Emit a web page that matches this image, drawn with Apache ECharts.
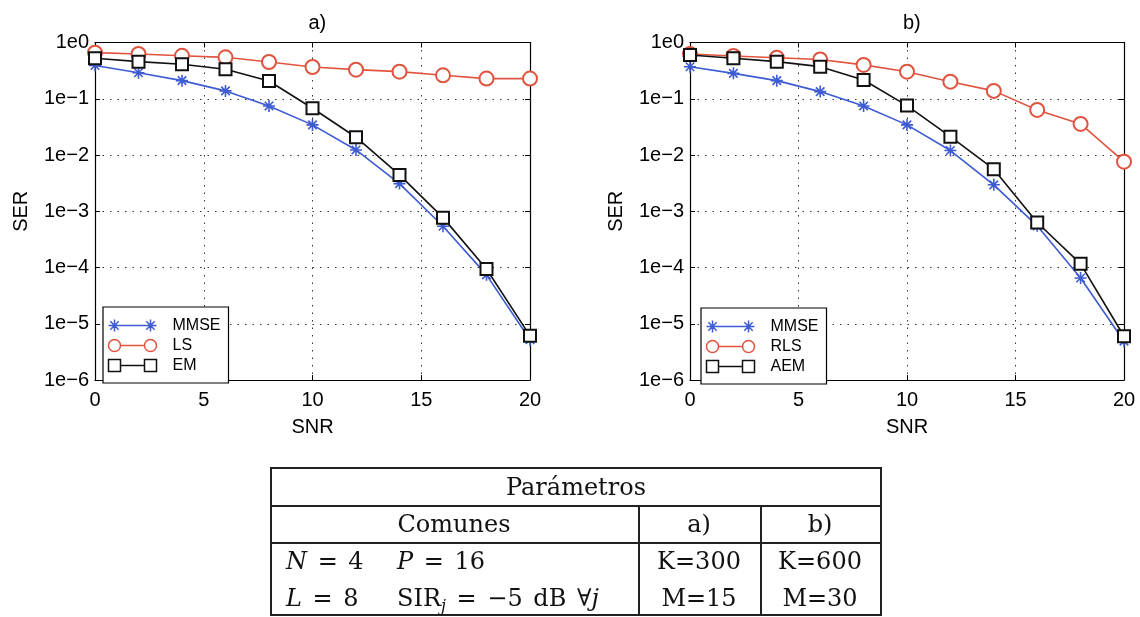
<!DOCTYPE html>
<html>
<head>
<meta charset="utf-8">
<script src="https://cdn.jsdelivr.net/npm/echarts@6/dist/echarts.min.js"></script>
<style>
  html, body { margin: 0; padding: 0; background: #fff; }
  #wrap { position: relative; width: 1140px; height: 617px; overflow: hidden; }
  #chart { position: absolute; left: 0; top: 0; width: 1140px; height: 617px; }
  #params { position: absolute; left: 0; top: 0; width: 1140px; height: 617px; pointer-events: none;
            font-family: "DejaVu Serif", "Liberation Serif", serif; font-size: 24px; color: #111; }
  #params .ln { position: absolute; background: #222; }
  #params .tx { position: absolute; white-space: nowrap; line-height: 30px; height: 30px; }
  #params .m { word-spacing: 3px; }
  #params .c { text-align: center; transform: translateX(-50%); }
  #params i { font-style: italic; }
  #params sub { font-size: 16px; vertical-align: -5px; line-height: 0; }
</style>
</head>
<body>
<div id="wrap">
  <div id="chart"></div>
  <div id="params">
    <!-- frame of the parameter table -->
    <div class="ln" style="left:270px;top:467px;width:612px;height:1.5px"></div>
    <div class="ln" style="left:270px;top:505px;width:612px;height:1.5px"></div>
    <div class="ln" style="left:270px;top:542px;width:612px;height:1.5px"></div>
    <div class="ln" style="left:270px;top:614px;width:612px;height:1.5px"></div>
    <div class="ln" style="left:270px;top:467px;width:1.5px;height:149px"></div>
    <div class="ln" style="left:880px;top:467px;width:1.5px;height:149px"></div>
    <div class="ln" style="left:638px;top:505px;width:1.5px;height:111px"></div>
    <div class="ln" style="left:760px;top:505px;width:1.5px;height:111px"></div>
    <!-- cell texts -->
    <div class="tx c" style="left:576px;top:472px">Parámetros</div>
    <div class="tx c" style="left:454px;top:509px">Comunes</div>
    <div class="tx c" style="left:699px;top:509px">a)</div>
    <div class="tx c" style="left:820px;top:509px">b)</div>
    <div class="tx m" style="left:286px;top:546px"><i>N</i> = 4</div>
    <div class="tx m" style="left:397px;top:546px"><i>P</i> = 16</div>
    <div class="tx m" style="left:286px;top:583px"><i>L</i> = 8</div>
    <div class="tx m" style="left:397px;top:583px">SIR<sub><i>j</i></sub> = −5 dB ∀<i>j</i></div>
    <div class="tx c" style="left:699px;top:546px">K=300</div>
    <div class="tx c" style="left:699px;top:583px">M=15</div>
    <div class="tx c" style="left:820px;top:546px">K=600</div>
    <div class="tx c" style="left:820px;top:583px">M=30</div>
  </div>
</div>
<script>
// SNR points (dB)
const snr = [0, 2, 4, 6, 8, 10, 12, 14, 16, 18, 20];
const snrTicks = [0, 5, 10, 15, 20];

// Panel a): K=300, M=15
const namesA = ['MMSE', 'LS', 'EM'];
const serMmseA = [0.39, 0.29, 0.21, 0.138, 0.0745, 0.0343, 0.0123, 0.0031, 5.4e-4, 7.4e-5, 5.2e-6];
const serLsA   = [0.66, 0.625, 0.58, 0.545, 0.45, 0.367, 0.329, 0.303, 0.261, 0.228, 0.228];
const serEmA   = [0.524, 0.457, 0.41, 0.334, 0.207, 0.0678, 0.0207, 0.00443, 7.7e-4, 9.4e-5, 6.1e-6];

// Panel b): K=600, M=30
const namesB = ['MMSE', 'RLS', 'AEM'];
const serMmseB = [0.37, 0.283, 0.21, 0.134, 0.0745, 0.0343, 0.012, 0.00295, 5.5e-4, 6.5e-5, 4.9e-6];
const serRlsB  = [0.625, 0.575, 0.537, 0.5, 0.4, 0.303, 0.201, 0.138, 0.0633, 0.0357, 0.0076];
const serAemB  = [0.6, 0.524, 0.457, 0.372, 0.216, 0.0755, 0.0212, 0.0056, 6.3e-4, 1.16e-4, 6.0e-6];

const panelTitles = ['a)', 'b)'];

const BLUE = '#3d5bd3';
const RED = '#e0543f';
const BLACK = '#111';
const FONT = '"Liberation Sans", Arial, Helvetica, sans-serif';

// MATLAB-like markers
const STAR = 'path://M0 -10 L0 10 M-10 0 L10 0 M-7.07 -7.07 L7.07 7.07 M-7.07 7.07 L7.07 -7.07';
const ICON_STAR = 'path://M6 6 L42 6 M6 0 L6 12 M0 6 L12 6 M1.8 1.8 L10.2 10.2 M1.8 10.2 L10.2 1.8 ' +
                  'M42 0 L42 12 M36 6 L48 6 M37.8 1.8 L46.2 10.2 M37.8 10.2 L46.2 1.8';
const ICON_CIRCLE = 'path://M12 6 L36 6 M0 6 A6 6 0 1 0 12 6 A6 6 0 1 0 0 6 M36 6 A6 6 0 1 0 48 6 A6 6 0 1 0 36 6';
const ICON_SQUARE = 'path://M0 0 L12 0 L12 12 L0 12 Z M12 6 L36 6 M36 0 L48 0 L48 12 L36 12 Z';

const styles = [
  { color: BLUE, symbol: STAR, size: 12, icon: ICON_STAR },
  { color: RED, symbol: 'emptyCircle', size: 14, icon: ICON_CIRCLE },
  { color: BLACK, symbol: 'emptyRect', size: 12, icon: ICON_SQUARE }
];

const grids = [
  { left: 95, top: 42.5, width: 435, height: 337.5 },
  { left: 690, top: 42.5, width: 434, height: 337.5 }
];

function pairs(ys) { return snr.map((x, i) => [x, ys[i]]); }

function expLabel(v) {
  const e = Math.round(Math.log10(v));
  return '1e' + (e < 0 ? '\u2212' + (-e) : String(e));
}

const dotted = { color: '#333', width: 1, type: [1.5, 6] };

const xAxes = [], yAxes = [], series = [], legends = [], titles = [];

grids.forEach((g, gi) => {
  xAxes.push({
    gridIndex: gi, type: 'value', min: 0, max: 20, interval: 5, position: 'bottom',
    axisLine: { show: true, onZero: false, lineStyle: { color: '#000', width: 1.2 } },
    axisTick: { show: true, inside: true, length: 5, lineStyle: { color: '#000' } },
    axisLabel: { color: '#000', fontSize: 20, fontFamily: FONT, margin: 10,
                 formatter: v => (snrTicks.indexOf(v) >= 0 ? String(v) : '') },
    splitLine: { show: true, lineStyle: dotted },
    name: 'SNR', nameLocation: 'middle', nameGap: 37,
    nameTextStyle: { color: '#000', fontSize: 20, fontFamily: FONT }
  });
  yAxes.push({
    gridIndex: gi, type: 'log', logBase: 10, min: 1e-6, max: 1, position: 'left',
    axisLine: { show: true, onZero: false, lineStyle: { color: '#000', width: 1.2 } },
    axisTick: { show: true, inside: true, length: 5, lineStyle: { color: '#000' } },
    axisLabel: { color: '#000', fontSize: 20, fontFamily: FONT, margin: 6, formatter: expLabel },
    splitLine: { show: true, lineStyle: dotted },
    name: 'SER', nameLocation: 'middle', nameGap: 64, nameRotate: 90,
    nameTextStyle: { color: '#000', fontSize: 20, fontFamily: FONT }
  });
  titles.push({
    text: panelTitles[gi], left: g.left + g.width / 2 - 9, top: 8,
    textStyle: { fontSize: 20, fontWeight: 'normal', color: '#000', fontFamily: FONT }
  });
});

// Opposite-side axes for the closed box with inner ticks
grids.forEach((g, gi) => {
  xAxes.push({
    gridIndex: gi, type: 'value', min: 0, max: 20, interval: 5, position: 'top',
    axisLine: { show: true, onZero: false, lineStyle: { color: '#000', width: 1.2 } },
    axisTick: { show: true, inside: true, length: 5, lineStyle: { color: '#000' } },
    axisLabel: { show: false }, splitLine: { show: false }
  });
  yAxes.push({
    gridIndex: gi, type: 'log', logBase: 10, min: 1e-6, max: 1, position: 'right',
    axisLine: { show: true, onZero: false, lineStyle: { color: '#000', width: 1.2 } },
    axisTick: { show: true, inside: true, length: 5, lineStyle: { color: '#000' } },
    axisLabel: { show: false }, splitLine: { show: false }
  });
});

const panels = [
  { names: namesA, data: [serMmseA, serLsA, serEmA] },
  { names: namesB, data: [serMmseB, serRlsB, serAemB] }
];

panels.forEach((p, pi) => {
  p.names.forEach((name, si) => {
    const s = styles[si];
    series.push({
      type: 'line', name: name, xAxisIndex: pi, yAxisIndex: pi,
      data: pairs(p.data[si]),
      symbol: s.symbol, symbolSize: s.size, showAllSymbol: true,
      clip: false, animation: false, z: 3 + si,
      lineStyle: { color: s.color, width: 1.6 },
      itemStyle: { color: s.color, borderColor: s.color, borderWidth: 1.6 },
      emphasis: { disabled: true }
    });
  });
});

const legendPos = [{ left: 103, top: 307 }, { left: 701, top: 308 }];
panels.forEach((p, pi) => {
  legends.push({
    orient: 'vertical', left: legendPos[pi].left, top: legendPos[pi].top,
    padding: [10, 8, 9, 3], itemGap: 3, itemWidth: 48, itemHeight: 12,
    backgroundColor: '#fff', borderColor: '#000', borderWidth: 1.2, borderRadius: 0,
    selectedMode: false, z: 10,
    textStyle: { color: '#000', fontSize: 16, fontFamily: FONT, lineHeight: 14, padding: [0, 0, 0, 11] },
    data: p.names.map((n, si) => ({
      name: n, icon: styles[si].icon,
      itemStyle: { color: 'none', borderColor: styles[si].color, borderWidth: 1.5 }
    }))
  });
});

const chart = echarts.init(document.getElementById('chart'), null, { renderer: 'canvas' });
chart.setOption({
  backgroundColor: '#fff',
  animation: false,
  title: titles,
  grid: grids.map(g => Object.assign({ show: false }, g)),
  xAxis: xAxes,
  yAxis: yAxes,
  legend: legends,
  series: series
});
</script>
</body>
</html>
